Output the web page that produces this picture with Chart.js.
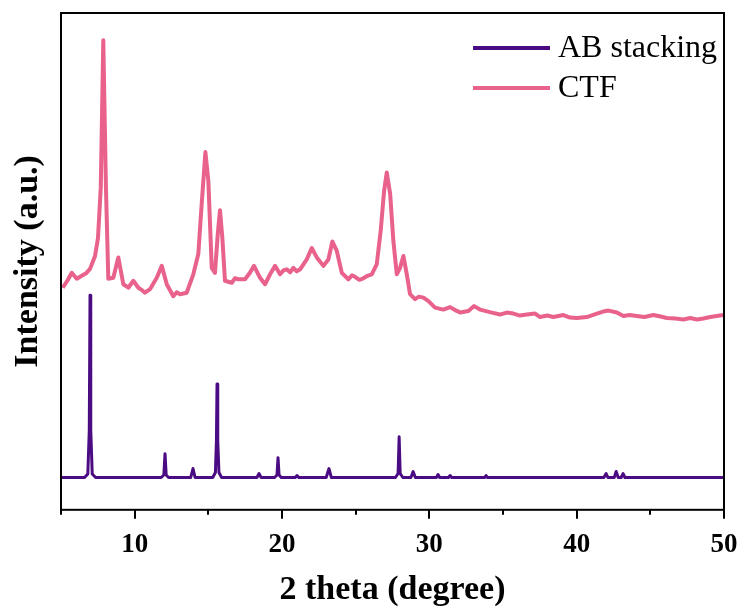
<!DOCTYPE html>
<html>
<head>
<meta charset="utf-8">
<script src="https://cdn.jsdelivr.net/npm/chart.js@4/dist/chart.umd.min.js"></script>
<style>
  html, body { margin: 0; padding: 0; background: #fff; }
  #wrap { width: 747px; height: 611px; position: relative; }
</style>
</head>
<body>
<div id="wrap"><canvas id="xrd"></canvas></div>
<script>
// 2 theta (degree), intensity (a.u.) pairs
const seriesLabels = ["AB stacking", "CTF"];
const seriesColors = ["#4B0C83", "#E8628C"];
const xTicks = [10, 20, 30, 40, 50];

const abStacking = [
  [5, 6.5], [6.6, 6.5], [6.82, 7.2], [6.92, 16], [6.97, 43.2], [7.02, 16], [7.12, 7.2], [7.35, 6.5],
  [11.8, 6.5], [11.98, 7.0], [12.06, 11.3], [12.14, 7.0], [12.3, 6.5],
  [13.8, 6.5], [13.96, 8.3], [14.1, 6.5],
  [15.3, 6.5], [15.48, 7.5], [15.55, 14], [15.59, 25.3], [15.64, 14], [15.72, 7.5], [15.9, 6.5],
  [18.3, 6.5], [18.44, 7.3], [18.58, 6.5],
  [19.5, 6.5], [19.66, 7.0], [19.73, 10.5], [19.8, 7.0], [19.95, 6.5],
  [20.9, 6.5], [21.02, 6.9], [21.14, 6.5],
  [23.0, 6.5], [23.19, 8.3], [23.35, 6.5],
  [27.7, 6.5], [27.88, 7.3], [27.95, 14.7], [28.02, 7.3], [28.2, 6.5],
  [28.75, 6.5], [28.9, 7.7], [29.05, 6.5],
  [30.48, 6.5], [30.59, 7.1], [30.7, 6.5],
  [31.3, 6.5], [31.41, 6.9], [31.52, 6.5],
  [33.75, 6.5], [33.85, 6.9], [33.95, 6.5],
  [41.85, 6.5], [42.0, 7.3], [42.12, 6.5],
  [42.55, 6.5], [42.68, 7.7], [42.82, 6.5],
  [43.02, 6.5], [43.15, 7.3], [43.28, 6.5],
  [50, 6.5]
];

const ctf = [
  [5.12, 44.7], [5.45, 46.2], [5.73, 47.7], [6.07, 46.5], [6.41, 47.1], [6.7, 47.6], [6.97, 48.5],
  [7.31, 51.1], [7.51, 54.7], [7.7, 64.9], [7.87, 94.5], [8.05, 64.9], [8.21, 46.5],
  [8.55, 46.7], [8.89, 50.8], [9.23, 45.4], [9.57, 44.7], [9.91, 46.1], [10.25, 44.7],
  [10.5, 44.2], [10.7, 43.7], [11.04, 44.4], [11.5, 46.7], [11.84, 49.1], [12.18, 45.4],
  [12.62, 43.0], [12.85, 43.8], [13.08, 43.4], [13.53, 43.7], [13.98, 47.4], [14.32, 51.5],
  [14.55, 61.6], [14.8, 72.0], [15.0, 66.3], [15.23, 48.7], [15.45, 47.7], [15.64, 55.5],
  [15.79, 60.3], [15.95, 54.8], [16.13, 46.1], [16.59, 45.7], [16.8, 46.6], [17.04, 46.4],
  [17.49, 46.4], [17.8, 47.6], [18.1, 49.1], [18.51, 46.7], [18.85, 45.4], [19.19, 47.4],
  [19.53, 49.1], [19.87, 47.4], [20.1, 48.2], [20.32, 48.4], [20.55, 47.8], [20.77, 48.7],
  [21.0, 48.0], [21.23, 48.4], [21.68, 50.4], [22.02, 52.7], [22.36, 50.8], [22.81, 49.1],
  [23.15, 50.4], [23.42, 54.0], [23.72, 52.1], [24.06, 47.7], [24.5, 46.4], [24.75, 47.2],
  [24.96, 46.9], [25.25, 46.3], [25.52, 46.6], [25.8, 47.1], [26.09, 47.4], [26.43, 49.4],
  [26.7, 56.2], [26.93, 64.2], [27.11, 67.9], [27.34, 63.6], [27.56, 54.1], [27.79, 47.4],
  [28.01, 48.7], [28.24, 51.1], [28.47, 47.4], [28.69, 43.4], [29.03, 42.4], [29.3, 42.9],
  [29.6, 42.7], [29.94, 42.0], [30.39, 40.7], [30.95, 40.3], [31.41, 40.8], [31.75, 40.2],
  [32.09, 39.7], [32.65, 40.0], [33.04, 41.0], [33.44, 40.3], [33.85, 40.0], [34.24, 39.7],
  [34.8, 39.3], [35.25, 39.7], [35.71, 39.5], [36.15, 39.1], [36.62, 39.3], [37.18, 39.5],
  [37.52, 38.8], [38.0, 39.1], [38.42, 38.8], [39.1, 39.2], [39.55, 38.7], [40.01, 38.6],
  [40.69, 38.8], [41.37, 39.5], [41.8, 39.9], [42.16, 40.1], [42.73, 39.7], [43.17, 39.0],
  [43.6, 39.2], [44.08, 39.0], [44.6, 38.8], [45.21, 39.2], [45.7, 38.9], [46.12, 38.6],
  [46.7, 38.5], [47.25, 38.3], [47.7, 38.6], [48.16, 38.3], [48.6, 38.5], [49.06, 38.8],
  [49.5, 39.0], [49.96, 39.2]
];

const toPoints = (pairs) => pairs.map((p) => ({ x: p[0], y: p[1] }));

const serif = "'Liberation Serif', 'Times New Roman', serif";

const framePlugin = {
  id: "frame",
  afterDraw(chart) {
    const ctx = chart.ctx;
    const a = chart.chartArea;
    const xs = chart.scales.x;
    ctx.save();
    ctx.strokeStyle = "#000";
    ctx.lineWidth = 2;
    ctx.strokeRect(a.left, a.top, a.right - a.left, a.bottom - a.top);
    // major / minor ticks outside the bottom axis
    for (let v = 5; v <= 50; v += 5) {
      const px = Math.round(xs.getPixelForValue(v));
      const len = v % 10 === 0 ? 9 : 5;
      ctx.beginPath();
      ctx.moveTo(px, a.bottom);
      ctx.lineTo(px, a.bottom + len);
      ctx.stroke();
    }
    // legend inside the top right corner
    ctx.font = "32px " + serif;
    ctx.textBaseline = "middle";
    ctx.textAlign = "left";
    chart.data.datasets.forEach((ds, i) => {
      const y = a.top + 35 + i * 40;
      const x0 = a.right - 251;
      ctx.strokeStyle = ds.borderColor;
      ctx.lineWidth = 4;
      ctx.beginPath();
      ctx.moveTo(x0, y);
      ctx.lineTo(x0 + 77, y);
      ctx.stroke();
      ctx.fillStyle = "#000";
      ctx.fillText(ds.label, x0 + 85, y + 1);
    });
    ctx.restore();
  }
};

new Chart(document.getElementById("xrd"), {
  type: "line",
  data: {
    datasets: [
      { label: seriesLabels[0], data: toPoints(abStacking), borderColor: seriesColors[0], borderWidth: 3 },
      { label: seriesLabels[1], data: toPoints(ctf), borderColor: seriesColors[1], borderWidth: 4 }
    ]
  },
  options: {
    responsive: true,
    maintainAspectRatio: false,
    animation: false,
    layout: { padding: { top: 13, right: 23, bottom: 0, left: 0 } },
    elements: { point: { radius: 0 }, line: { tension: 0, borderJoinStyle: "round" } },
    plugins: { legend: { display: false }, tooltip: { enabled: false } },
    scales: {
      x: {
        type: "linear",
        min: 5,
        max: 50,
        afterFit: (scale) => { scale.paddingRight = 0; scale.paddingLeft = 0; },
        grid: { display: false },
        border: { display: false },
        ticks: {
          stepSize: 5,
          autoSkip: false,
          maxRotation: 0,
          padding: 11,
          color: "#000",
          font: { family: serif, size: 27, weight: "bold" },
          callback: (v) => (xTicks.includes(v) ? String(v) : "")
        },
        title: {
          display: true,
          text: "2 theta (degree)",
          color: "#000",
          padding: { top: -2, bottom: 0 },
          font: { family: serif, size: 34, weight: "bold" }
        }
      },
      y: {
        min: 0,
        max: 100,
        grid: { display: false },
        border: { display: false },
        ticks: { display: false },
        title: {
          display: true,
          text: "Intensity (a.u.)",
          color: "#000",
          padding: { top: 7.6, bottom: 4.6 },
          font: { family: serif, size: 34, weight: "bold" }
        }
      }
    }
  },
  plugins: [framePlugin]
});
</script>
</body>
</html>
